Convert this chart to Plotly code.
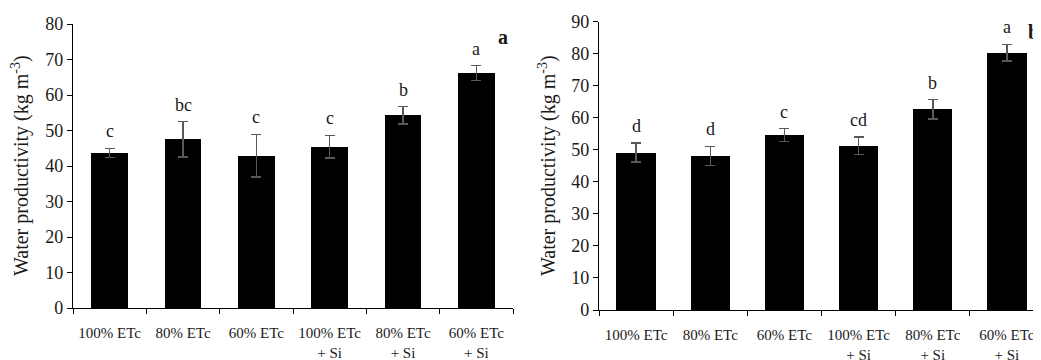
import plotly.graph_objects as go

categories = ["100% ETc", "80% ETc", "60% ETc", "100% ETc<br>+ Si", "80% ETc<br>+ Si", "60% ETc<br>+ Si"]

wp_a = [43.7, 47.5, 42.9, 45.4, 54.3, 66.2]
err_a = [1.3, 5.0, 6.0, 3.2, 2.4, 2.1]
letters_a = ["c", "bc", "c", "c", "b", "a"]

wp_b = [49.2, 48.1, 54.6, 51.3, 62.7, 80.3]
err_b = [3.0, 3.0, 2.0, 2.7, 3.0, 2.6]
letters_b = ["d", "d", "c", "cd", "b", "a"]

y_ticks_a = [0, 10, 20, 30, 40, 50, 60, 70, 80]
y_ticks_b = [0, 10, 20, 30, 40, 50, 60, 70, 80, 90]

FONT = "Liberation Serif"
TXT = "#1a1a1a"
OFF = 8  # page body offset of the figure
W, H = 1041 - OFF, 360 - OFF

def px_x(v):
    return (v - OFF) / W

def px_y(v):
    return 1 - (v - OFF) / H

fig = go.Figure()

def add_panel(vals, errs, xa, ya, width):
    fig.add_trace(go.Bar(
        x=categories, y=vals, xaxis=xa, yaxis=ya, width=width,
        marker=dict(color="#000000", line=dict(width=0)),
        error_y=dict(type="data", array=errs, visible=True, color="#595959",
                     thickness=1.5, width=5),
        showlegend=False,
    ))

add_panel(wp_a, err_a, "x", "y", 0.5)
add_panel(wp_b, err_b, "x2", "y2", 0.53)

axis_common = dict(showline=True, linecolor="#000000", linewidth=1.2, ticks="outside",
                   ticklen=5, tickcolor="#000000", showgrid=False, zeroline=False,
                   automargin=False)
xfont = dict(family=FONT, size=15, color=TXT)
yfont = dict(family=FONT, size=18, color=TXT)

fig.update_layout(
    width=W, height=H, margin=dict(l=0, r=0, t=0, b=0, pad=0, autoexpand=False),
    paper_bgcolor="white", plot_bgcolor="white", bargap=0,
    xaxis=dict(domain=[px_x(73), px_x(513)], range=[-0.5, 5.5], type="category",
               tickson="boundaries", anchor="y", ticklabelstandoff=11, tickfont=xfont,
               **axis_common),
    yaxis=dict(domain=[px_y(308), px_y(24)], range=[0, 80], tickvals=y_ticks_a, anchor="x",
               tickfont=yfont, **axis_common),
    xaxis2=dict(domain=[px_x(599), px_x(1041)], range=[-0.5, 5.5 - 3 / 74.2], type="category",
                tickson="boundaries", anchor="y2", ticklabelstandoff=11, tickfont=xfont,
                **axis_common),
    yaxis2=dict(domain=[px_y(310), px_y(21.7)], range=[0, 90], tickvals=y_ticks_b, anchor="x2",
                tickfont=yfont, **axis_common),
)

def add_letters(vals, errs, letters, xa, ya):
    for c, v, e, t in zip(categories, vals, errs, letters):
        fig.add_annotation(x=c, y=v + e, xref=xa, yref=ya, text=t, showarrow=False,
                           yanchor="bottom", yshift=5,
                           font=dict(family=FONT, size=18, color=TXT))

add_letters(wp_a, err_a, letters_a, "x", "y")
add_letters(wp_b, err_b, letters_b, "x2", "y2")

title = "Water productivity (kg m<sup>-3</sup>)"
for xp, yp in [(20, 166), (547, 166)]:
    fig.add_annotation(x=px_x(xp), y=px_y(yp), xref="paper", yref="paper", text=title,
                       textangle=-90, showarrow=False, xanchor="center", yanchor="middle",
                       font=dict(family=FONT, size=20, color=TXT))

fig.add_annotation(x=px_x(503), y=px_y(37), xref="paper", yref="paper", text="<b>a</b>",
                   showarrow=False, xanchor="center", yanchor="middle",
                   font=dict(family=FONT, size=20, color=TXT))
fig.add_annotation(x=1.0, y=px_y(32), xref="paper", yref="paper", text="<b>b</b>",
                   showarrow=False, xanchor="right", yanchor="middle",
                   font=dict(family=FONT, size=20, color=TXT))

fig.write_html("out.html")
